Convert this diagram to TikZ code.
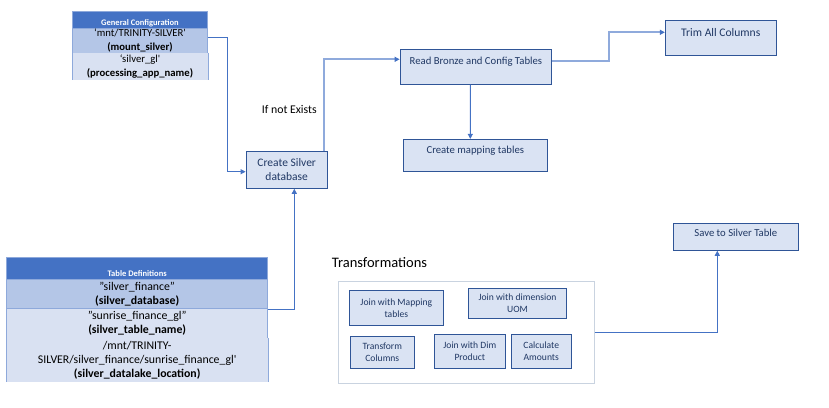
\documentclass[tikz,border=0pt]{standalone}
\usepackage{fontspec}
\setmainfont{Carlito}
\usetikzlibrary{arrows.meta}
\definecolor{hdr}{HTML}{4472C4}
\definecolor{rowA}{HTML}{B4C6E7}
\definecolor{rowB}{HTML}{D9E1F2}
\definecolor{tline}{HTML}{8EA9DB}
\definecolor{bxfill}{HTML}{DAE3F3}
\definecolor{bxdraw}{HTML}{2F5597}
\definecolor{bxtext}{HTML}{203864}
\definecolor{conn}{HTML}{4472C4}
\definecolor{connlight}{HTML}{8FAADC}
\definecolor{framec}{HTML}{C9D3E0}
\begin{document}
\begin{tikzpicture}[x=1pt,y=-1pt,
  cell/.style={rectangle, inner sep=0pt, align=center, line width=0.8pt, text=black},
  hcell/.style={cell, fill=hdr, draw=tline, text=white, font=\fontsize{8.5}{10}\selectfont\bfseries},
  gcell/.style={cell, font=\fontsize{10.7}{14}\selectfont},
  tcell/.style={cell, font=\fontsize{11.8}{14}\selectfont},
  tedge/.style={draw=tline, line width=0.8pt},
  bx/.style={rectangle, inner sep=0pt, align=center, fill=bxfill, draw=bxdraw, line width=0.9pt, text=bxtext},
  cn/.style={draw=conn, line width=1pt, -{Triangle[length=5pt,width=5pt]}},
  cnl/.style={draw=connlight, line width=2pt, -{Triangle[color=conn,length=5pt,width=5pt]}},
  plain/.style={inner sep=0pt, text=black}
]
\path[use as bounding box] (0,0) rectangle (829,407);

% General Configuration table
\node[hcell, minimum width=135.4, minimum height=17, text height=11pt, text depth=0pt] (gc0) at (140,19.5) {General Configuration};
\node[gcell, fill=rowA, draw=tline, minimum width=135.4, minimum height=25] (gc1) at (140,40.5) {‘mnt/TRINITY-SILVER\textquotesingle\\\textbf{(mount\_silver)}};
\node[gcell, fill=rowB, minimum width=135.4, minimum height=27] (gc2) at (140,66.5) {‘silver\_gl\textquotesingle\\\textbf{(processing\_app\_name)}};
\draw[tedge] (gc2.north west) -- (gc2.south west) (gc2.north east) -- (gc2.south east);

% Table Definitions table
\node[hcell, minimum width=261, minimum height=22, text height=16.4pt, text depth=0pt] (td0) at (137.2,268.3) {Table Definitions};
\node[tcell, fill=rowA, draw=tline, minimum width=261, minimum height=29] (td1) at (137.2,293.8) {"silver\_finance"\\\textbf{(silver\_database)}};
\node[tcell, fill=rowB, draw=tline, minimum width=261, minimum height=30] (td2) at (137.2,323.3) {"sunrise\_finance\_gl"\\\textbf{(silver\_table\_name)}};
\node[tcell, fill=rowB, minimum width=261, minimum height=43.4] (td3) at (137.2,360) {/mnt/TRINITY-\\SILVER/silver\_finance/sunrise\_finance\_gl\textquotesingle\\\textbf{(silver\_datalake\_location)}};
\draw[tedge] (td3.north west) -- (td3.south west) (td3.north east) -- (td3.south east);

% process boxes
\node[bx, minimum width=81.3, minimum height=37.3, font=\fontsize{11.5}{14}\selectfont] (cs) at (286.7,169.7) {Create Silver\\database};
\node[bx, minimum width=151.7, minimum height=34.7, font=\fontsize{10.7}{13}\selectfont, text height=6pt, text depth=10pt] (rb) at (475.9,66.7) {Read Bronze and Config Tables};
\node[bx, minimum width=144, minimum height=31.7, font=\fontsize{10.7}{13}\selectfont, text height=6pt, text depth=10pt] (cm) at (475.3,155.2) {Create mapping tables};
\node[bx, minimum width=111, minimum height=35, font=\fontsize{11.6}{14}\selectfont, text height=7pt, text depth=10pt] (tr) at (720.8,37.8) {Trim All Columns};
\node[bx, minimum width=125, minimum height=27, font=\fontsize{10.7}{13}\selectfont, text height=7pt, text depth=8.6pt] (sv) at (735.8,236.8) {Save to Silver Table};

% labels
\node[plain, font=\fontsize{11.8}{14}\selectfont] (ifn) at (289.3,109) {If not Exists};
\node[plain, anchor=west, font=\fontsize{14.5}{17}\selectfont] (trl) at (331.7,262.7) {Transformations};

% transformations frame
\node[rectangle, draw=framec, line width=0.8pt, minimum width=256, minimum height=101.6, inner sep=0pt] (tf) at (466.3,332.5) {};
\node[bx, minimum width=94, minimum height=34.6, font=\fontsize{9.6}{11.5}\selectfont] (j1) at (396.3,308) {Join with Mapping\\tables};
\node[bx, minimum width=98.4, minimum height=30, font=\fontsize{9.6}{12}\selectfont] (j2) at (517.5,303.3) {Join with dimension\\UOM};
\node[bx, minimum width=64, minimum height=31.6, font=\fontsize{9.6}{11.7}\selectfont] (tc) at (382.3,352.5) {Transform\\Columns};
\node[bx, minimum width=71, minimum height=34, font=\fontsize{9.6}{12}\selectfont] (jd) at (469.8,351.3) {Join with Dim\\Product};
\node[bx, minimum width=60.7, minimum height=34, font=\fontsize{9.6}{12}\selectfont] (ca) at (541.3,351.3) {Calculate\\Amounts};

% connectors
\draw[cn] ([yshift=2.8pt]gc1.east) -- ++(19.6,0) |- ([yshift=-2pt]cs.west);
\draw[cnl] ([xshift=-4.3pt]cs.north east) |- ([yshift=7.4pt]rb.west);
\draw[cnl] ([yshift=5.7pt]rb.east) -- ++(56.6,0) |- ([yshift=5.5pt]tr.west);
\draw[cn] ([xshift=-5.5pt]rb.south) -- ([xshift=-5pt]cm.north);
\draw[cn] ([yshift=-2pt]td2.north east) -| ([xshift=7.6pt]cs.south);
\draw[cn] (tf.east) -| ([xshift=-18.5pt]sv.south);
\end{tikzpicture}
\end{document}
